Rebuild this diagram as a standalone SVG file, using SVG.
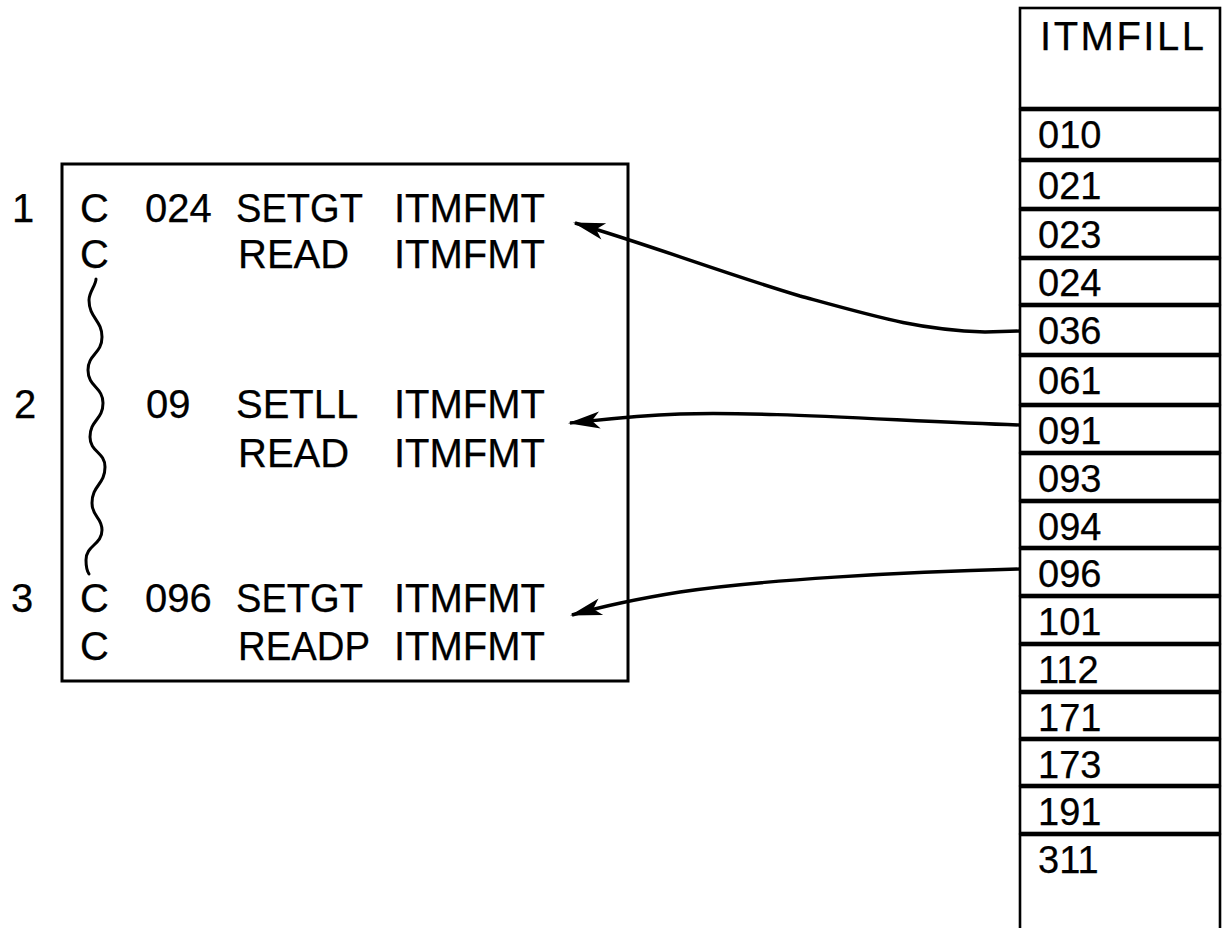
<svg xmlns="http://www.w3.org/2000/svg" width="1225" height="928" viewBox="0 0 1225 928">
<style>
  .t { font-family: "Liberation Sans", Arial, sans-serif; font-size: 40px; fill: #000; stroke: #000; stroke-width: 0.25; }
  .d { font-family: "Liberation Sans", Arial, sans-serif; font-size: 38px; fill: #000; stroke: #000; stroke-width: 0.25; }
  .box { fill: #fff; stroke: #000; stroke-width: 3; }
  .row { fill: #fff; stroke: #000; stroke-width: 2.6; }
  .conn { fill: none; stroke: #000; stroke-width: 3.4; marker-end: url(#ah); }
  .wave { fill: none; stroke: #000; stroke-width: 3; stroke-linecap: round; }
</style>
<defs>
  <marker id="ah" markerUnits="userSpaceOnUse" markerWidth="44" markerHeight="26" viewBox="-34 -13 38 26" refX="0" refY="0" orient="auto">
    <path d="M2,0 L-30,-8.5 L-22,0 L-30,8.5 Z" fill="#000"/>
  </marker>
</defs>
<rect width="1225" height="928" fill="#fff"/>

<g id="program">
  <rect class="box" x="62" y="164" width="566" height="517"/>
  <text class="t" x="12" y="222">1</text>
  <text class="t" x="14" y="418">2</text>
  <text class="t" x="11" y="612">3</text>
  <g id="line1">
    <text class="t" x="80" y="222">C</text>
    <text class="t" x="145" y="222">024</text>
    <text class="t" x="236" y="222" textLength="127" lengthAdjust="spacingAndGlyphs">SETGT</text>
    <text class="t" x="394" y="222">ITMFMT</text>
  </g>
  <g id="line2">
    <text class="t" x="80" y="268">C</text>
    <text class="t" x="238" y="268">READ</text>
    <text class="t" x="394" y="268">ITMFMT</text>
  </g>
  <g id="line3">
    <text class="t" x="146" y="418">09</text>
    <text class="t" x="236" y="418">SETLL</text>
    <text class="t" x="394" y="418">ITMFMT</text>
  </g>
  <g id="line4">
    <text class="t" x="238" y="467">READ</text>
    <text class="t" x="394" y="467">ITMFMT</text>
  </g>
  <g id="line5">
    <text class="t" x="80" y="612">C</text>
    <text class="t" x="145" y="612">096</text>
    <text class="t" x="236" y="612" textLength="127" lengthAdjust="spacingAndGlyphs">SETGT</text>
    <text class="t" x="394" y="612">ITMFMT</text>
  </g>
  <g id="line6">
    <text class="t" x="80" y="660">C</text>
    <text class="t" x="238" y="660" textLength="132" lengthAdjust="spacingAndGlyphs">READP</text>
    <text class="t" x="394" y="660">ITMFMT</text>
  </g>
  <path class="wave" d="M96,279 C96,285 89,292 89,300 C89,318 102,320 102,337 C102,354 88,354 88,370 C88,387 103,387 103,403 C103,420 90,420 90,437 C90,452 105,452 105,467 C105,485 92,485 92,503 C92,517 102,517 102,530 C102,545 86,545 86,560 C86,567 87,571 89,574"/>
</g>

<g id="itmfill">
  <g id="hdr"><rect class="row" x="1020" y="8" width="200" height="100"/>
    <text class="t" x="1040" y="50" textLength="164" lengthAdjust="spacing">ITMFILL</text></g>
  <g id="r010"><rect class="row" x="1020" y="110" width="200" height="49"/><text class="d" x="1038" y="148">010</text></g>
  <g id="r021"><rect class="row" x="1020" y="161" width="200" height="47"/><text class="d" x="1038" y="199">021</text></g>
  <g id="r023"><rect class="row" x="1020" y="210" width="200" height="47"/><text class="d" x="1038" y="248">023</text></g>
  <g id="r024"><rect class="row" x="1020" y="259" width="200" height="45"/><text class="d" x="1038" y="296">024</text></g>
  <g id="r036"><rect class="row" x="1020" y="306" width="200" height="48"/><text class="d" x="1038" y="344">036</text></g>
  <g id="r061"><rect class="row" x="1020" y="356" width="200" height="48"/><text class="d" x="1038" y="394">061</text></g>
  <g id="r091"><rect class="row" x="1020" y="406" width="200" height="46"/><text class="d" x="1038" y="444">091</text></g>
  <g id="r093"><rect class="row" x="1020" y="454" width="200" height="46"/><text class="d" x="1038" y="492">093</text></g>
  <g id="r094"><rect class="row" x="1020" y="502" width="200" height="45"/><text class="d" x="1038" y="540">094</text></g>
  <g id="r096"><rect class="row" x="1020" y="549" width="200" height="46"/><text class="d" x="1038" y="587">096</text></g>
  <g id="r101"><rect class="row" x="1020" y="597" width="200" height="46"/><text class="d" x="1038" y="635">101</text></g>
  <g id="r112"><rect class="row" x="1020" y="645" width="200" height="46"/><text class="d" x="1038" y="683">112</text></g>
  <g id="r171"><rect class="row" x="1020" y="693" width="200" height="45"/><text class="d" x="1038" y="731">171</text></g>
  <g id="r173"><rect class="row" x="1020" y="740" width="200" height="45"/><text class="d" x="1038" y="778">173</text></g>
  <g id="r191"><rect class="row" x="1020" y="787" width="200" height="46"/><text class="d" x="1038" y="825">191</text></g>
  <g id="r311"><rect class="row" x="1020" y="835" width="200" height="100"/><text class="d" x="1038" y="873">311</text></g>
</g>

<g id="connectors">
  <path class="conn" d="M1020,331 L985,332 C920,330 880,318 800,296 C720,272 650,245 575,223"/>
  <path class="conn" d="M1020,425 C900,421 760,411 680,414 C630,416 600,420 570,423"/>
  <path class="conn" d="M1020,569 C900,572 760,580 680,592 C630,600 600,607 572,615"/>
</g>
</svg>
